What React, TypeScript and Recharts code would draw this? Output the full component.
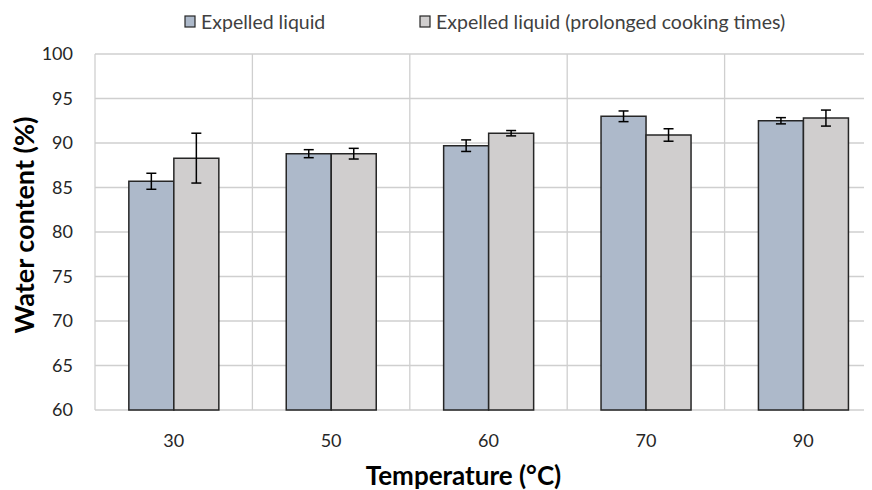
import { BarChart, Bar, XAxis, YAxis, CartesianGrid, ErrorBar } from "recharts";

const temperatures = ["30", "50", "60", "70", "90"];
const expelled = [85.7, 88.8, 89.7, 93.0, 92.5];
const expelledErr = [0.9, 0.45, 0.65, 0.6, 0.35];
const prolonged = [88.3, 88.8, 91.1, 90.9, 92.8];
const prolongedErr = [2.8, 0.6, 0.3, 0.7, 0.9];
const yTicks = [60, 65, 70, 75, 80, 85, 90, 95, 100];

const data = temperatures.map((t, i) => ({
  temp: t,
  expelled: expelled[i],
  expelledErr: expelledErr[i],
  prolonged: prolonged[i],
  prolongedErr: prolongedErr[i],
}));

const FONT = "Lato, 'Open Sans', sans-serif";
const BLUE = "#adb9ca";
const GREY = "#d0cece";
const EDGE = "#262626";

function TopLegend() {
  const items = [
    { x: 185, label: "Expelled liquid", color: BLUE },
    { x: 420, label: "Expelled liquid (prolonged cooking times)", color: GREY },
  ];
  return (
    <g>
      {items.map((it) => (
        <g key={it.label}>
          <rect x={it.x} y={16} width={10} height={11} fill={it.color} stroke={EDGE} strokeWidth={1.2} />
          <text x={it.x + 16} y={29} fontSize={19.5} fill="#404040" fontFamily={FONT}>
            {it.label}
          </text>
        </g>
      ))}
    </g>
  );
}

function XTitle({ viewBox }: any) {
  return (
    <text
      x={viewBox.x + viewBox.width / 2 - 25}
      y={viewBox.y + 75}
      textAnchor="middle"
      fontSize={26}
      fontWeight={700}
      fill="#000"
      fontFamily={FONT}
    >
      Temperature (°C)
    </text>
  );
}

function YTitle({ viewBox }: any) {
  const cx = 23;
  const cy = viewBox.y + viewBox.height / 2 - 7;
  return (
    <text
      x={cx}
      y={cy}
      transform={`rotate(-90, ${cx}, ${cy})`}
      textAnchor="middle"
      dominantBaseline="central"
      fontSize={27}
      fontWeight={700}
      fill="#000"
      fontFamily={FONT}
    >
      Water content (%)
    </text>
  );
}

export default function App() {
  return (
    <div style={{ marginLeft: -8, marginTop: -8, width: 872, height: 490, overflow: "hidden" }}>
      <BarChart
        width={885}
        height={490}
        data={data}
        margin={{ top: 54, right: 3, bottom: 0, left: 0 }}
        barCategoryGap="21.5%"
        barGap={0}
      >
        <CartesianGrid
          stroke="#cfcfcf"
          strokeWidth={1.3}
          verticalCoordinatesGenerator={({ offset }: any) =>
            [0, 1, 2, 3, 4, 5].map((i) => offset.left + (i * offset.width) / 5)
          }
        />
        <XAxis
          dataKey="temp"
          axisLine={false}
          tickLine={false}
          tickSize={0}
          tickMargin={24}
          height={80}
          tick={{ fontSize: 18, fill: "#262626", fontFamily: FONT }}
          label={<XTitle />}
        />
        <YAxis
          domain={[60, 100]}
          ticks={yTicks}
          axisLine={false}
          tickLine={false}
          tickSize={0}
          tickMargin={22}
          width={95}
          tick={{ fontSize: 18, fill: "#262626", fontFamily: FONT }}
          label={<YTitle />}
        />
        <Bar dataKey="expelled" fill={BLUE} stroke={EDGE} strokeWidth={1.5} isAnimationActive={false}>
          <ErrorBar dataKey="expelledErr" width={5} stroke="#000" strokeWidth={1.5} />
        </Bar>
        <Bar dataKey="prolonged" fill={GREY} stroke={EDGE} strokeWidth={1.5} isAnimationActive={false}>
          <ErrorBar dataKey="prolongedErr" width={5} stroke="#000" strokeWidth={1.5} />
        </Bar>
        <TopLegend />
      </BarChart>
    </div>
  );
}
